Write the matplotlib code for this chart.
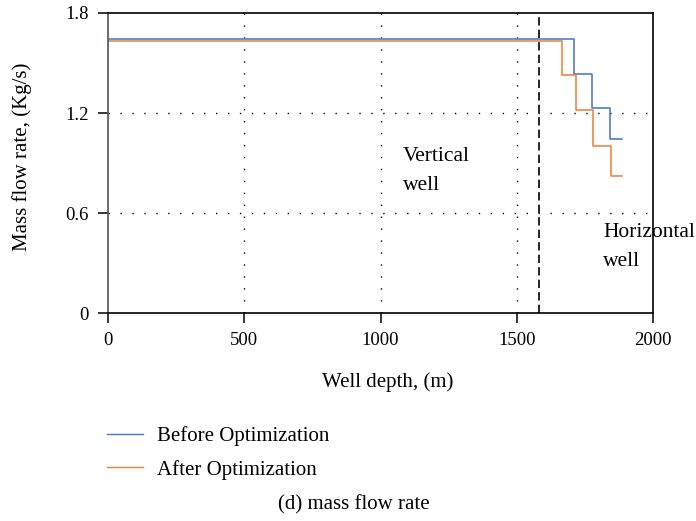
import matplotlib
matplotlib.use("Agg")
import matplotlib.pyplot as plt
from matplotlib.lines import Line2D

plt.rcParams['font.family'] = ['Liberation Serif', 'DejaVu Serif']

# Data
before_depth = [0, 1710, 1776, 1843, 1885]
before_rate = [1.644, 1.436, 1.232, 1.044, 1.044]
after_depth = [0, 1666, 1717, 1781, 1846, 1885]
after_rate = [1.632, 1.428, 1.218, 1.004, 0.824, 0.824]
boundary_depth = 1580
x_ticks = [0, 500, 1000, 1500, 2000]
y_ticks = [0, 0.6, 1.2, 1.8]
y_tick_labels = ['0', '0.6', '1.2', '1.8']

blue = '#4472C4'
orange = '#ED7D31'

fig = plt.figure(figsize=(6.96, 5.21), dpi=100)
ax = fig.add_axes([108/696, 1 - 313/521, (653-108)/696, (313-13)/521])

ax.plot(before_depth, before_rate, drawstyle='steps-post', color=blue, lw=1.1)
ax.plot(after_depth, after_rate, drawstyle='steps-post', color=orange, lw=1.1)
ax.axvline(boundary_depth, color='black', lw=1.2, ls=(0, (5, 2.5)))

ax.set_xlim(0, 2000)
ax.set_ylim(0, 1.8)
ax.set_xticks(x_ticks)
ax.set_yticks(y_ticks)
ax.set_yticklabels(y_tick_labels)
ax.tick_params(direction='out', length=7, width=1.1, labelsize=13.5, colors='black', pad=7)
for s in ax.spines.values():
    s.set_linewidth(1.2)
    s.set_color('black')
ax.spines['left'].set_color('#555555')

for x in [500, 1000, 1500]:
    ax.axvline(x, color='black', lw=1, ls=(0, (1, 7.6)), zorder=0)
for y in [0.6, 1.2]:
    ax.axhline(y, color='black', lw=1, ls=(0, (1, 7.6)), zorder=0)

ax.set_xlabel('Well depth, (m)', fontsize=15)
ax.xaxis.set_label_coords(0.513, (313 - 372) / 300)
ax.set_ylabel('Mass flow rate, (Kg/s)', fontsize=15)
ax.yaxis.set_label_coords((32 - 108) / 545, (313 - 157) / 300)

ax.text(1083, 0.995, 'Vertical\nwell', fontsize=15.5, linespacing=1.7, va='top')
ax.text(1817, 0.54, 'Horizontal\nwell', fontsize=15.5, linespacing=1.7, va='top')

handles = [Line2D([], [], color=blue, lw=1), Line2D([], [], color=orange, lw=1)]
fig.legend(handles, ['Before Optimization', 'After Optimization'],
           loc='upper left', bbox_to_anchor=(107/696, 1 - 426/521), frameon=False,
           fontsize=15, handlelength=1.73, handletextpad=0.67, labelspacing=0.66,
           borderpad=0, borderaxespad=0)

fig.text(354/696, 1 - 505/521, '(d) mass flow rate', fontsize=15, ha='center', va='center')

fig.savefig('out.png', dpi=100)
